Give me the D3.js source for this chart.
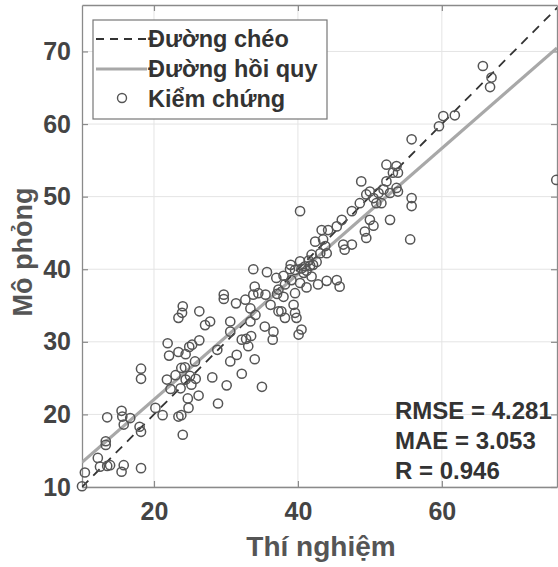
<!DOCTYPE html>
<html>
<head>
<meta charset="utf-8">
<script src="https://cdn.jsdelivr.net/npm/d3@7"></script>
<style>
  body { margin: 0; background: #fff; }
  svg text { font-family: "Liberation Sans", Arial, sans-serif; font-weight: bold; }
</style>
</head>
<body>
<div id="chart"></div>
<script>
/* DATA */
const thiNghiem = [
  10.0, 10.4, 12.2, 12.5, 13.5, 13.3, 13.3, 13.5, 15.5, 15.8, 15.5, 15.6, 15.8, 16.7, 18.2, 18.0, 18.2, 18.2, 18.2, 20.2,
  21.2, 21.9, 22.1, 23.4, 23.4, 23.9, 24.0, 21.8, 22.3, 23.0, 23.7, 23.8, 24.3, 24.4, 24.4, 24.9, 25.3, 26.3, 25.7, 25.0,
  25.8, 25.2, 24.7, 24.8, 23.4, 23.8, 24.0, 26.2, 28.1, 28.9, 30.1, 30.6, 31.5, 32.2, 34.0, 35.0, 26.3, 27.1, 27.8, 30.6,
  30.6, 31.4, 29.7, 29.7, 28.8, 32.2, 32.8, 33.1, 33.5, 32.7, 33.4, 33.4, 34.1, 33.8, 34.5, 35.4, 36.6, 36.5, 35.5, 36.2,
  37.3, 37.1, 13.9, 33.8, 35.7, 34.0, 37.0, 38.0, 38.9, 40.3, 39.6, 40.5, 41.0, 41.7, 42.1, 41.2, 41.9, 39.1, 38.2, 40.3,
  39.6, 41.2, 42.8, 44.0, 45.4, 45.8, 37.3, 38.0, 39.4, 39.6, 37.7, 38.2, 39.8, 40.5, 40.1, 40.3, 43.3, 44.2, 43.5, 42.4,
  43.8, 41.9, 43.1, 44.0, 45.4, 46.1, 47.5, 46.3, 46.5, 47.5, 48.6, 48.8, 49.5, 50.0, 50.5, 50.9, 51.6, 51.2, 51.9, 52.3,
  52.3, 53.7, 53.2, 53.9, 53.7, 53.9, 52.8, 52.8, 50.0, 50.5, 49.3, 49.5, 55.8, 55.8, 55.6, 55.8, 59.6, 60.2, 61.8, 65.7,
  66.9, 66.7, 75.9, 40.8, 41.5, 42.6, 39.0
];
const moPhong = [
  10.1, 12.0, 14.0, 12.8, 12.9, 15.8, 16.3, 19.6, 12.1, 13.0, 20.5, 19.7, 18.6, 19.5, 12.6, 18.3, 17.6, 26.3, 24.9, 20.9,
  19.9, 29.8, 28.1, 28.6, 33.3, 34.0, 34.9, 24.8, 23.5, 25.4, 23.6, 26.4, 26.5, 24.8, 28.3, 29.3, 29.6, 30.2, 27.3, 25.3,
  24.9, 24.1, 22.2, 20.9, 19.7, 19.9, 17.2, 22.6, 25.1, 21.5, 24.0, 27.3, 28.2, 25.6, 27.6, 23.8, 34.2, 32.3, 32.8, 32.8,
  31.4, 35.3, 36.5, 35.9, 28.9, 30.3, 30.4, 29.4, 30.8, 35.8, 34.6, 32.8, 33.7, 36.5, 36.7, 32.1, 31.4, 30.3, 36.5, 35.1,
  34.2, 36.6, 13.0, 40.0, 39.6, 37.6, 38.8, 39.1, 40.0, 41.1, 39.9, 40.1, 40.4, 40.5, 40.6, 39.8, 39.0, 38.5, 37.9, 38.1,
  36.7, 37.5, 37.9, 38.4, 38.5, 37.6, 37.2, 36.2, 35.1, 34.0, 34.2, 33.3, 33.3, 31.7, 31.0, 48.0, 45.4, 45.4, 44.1, 43.8,
  43.2, 42.0, 42.2, 42.2, 45.9, 46.8, 48.0, 43.4, 42.7, 43.4, 49.1, 52.1, 50.3, 50.7, 49.8, 49.1, 49.1, 50.5, 51.0, 52.1,
  54.4, 54.2, 53.3, 53.3, 51.2, 50.7, 50.5, 46.8, 46.8, 46.0, 45.2, 44.3, 49.8, 48.7, 44.1, 57.9, 59.7, 61.1, 61.2, 68.0,
  66.4, 65.1, 52.3, 39.5, 41.2, 41.0, 40.6
];
const xTicks = [20, 40, 60];
const yTicks = [10, 20, 30, 40, 50, 60, 70];
const xDomain = [10, 76];
const yDomain = [10, 76.4];
const regSlope = 0.865, regIntercept = 4.75;
const legendLabels = ["Đường chéo", "Đường hồi quy", "Kiểm chứng"];
const statLines = ["RMSE = 4.281", "MAE = 3.053", "R = 0.946"];

/* LAYOUT */
const width = 558, height = 567;
const margin = { top: 5, right: 1, bottom: 80, left: 82 };
const iw = width - margin.left - margin.right,
  ih = height - margin.top - margin.bottom;

const svg = d3.select("#chart").append("svg")
  .attr("width", width)
  .attr("height", height);

const x = d3.scaleLinear().domain(xDomain).range([0, iw]);
const y = d3.scaleLinear().domain(yDomain).range([ih, 0]);

const g = svg.append("g").attr("transform", `translate(${margin.left},${margin.top})`);

svg.append("defs").append("clipPath").attr("id", "clip")
  .append("rect").attr("width", iw).attr("height", ih);

// grid
g.append("g").selectAll("line").data(xTicks).join("line")
  .attr("x1", d => x(d)).attr("x2", d => x(d))
  .attr("y1", 0).attr("y2", ih)
  .attr("stroke", "#e4e4e4");
g.append("g").selectAll("line").data(yTicks).join("line")
  .attr("y1", d => y(d)).attr("y2", d => y(d))
  .attr("x1", 0).attr("x2", iw)
  .attr("stroke", "#e4e4e4");

// axes (ticks inward on all sides)
const axisStyle = sel => {
  sel.select(".domain").attr("stroke", "#8a8a8a").attr("stroke-width", 1.3);
  sel.selectAll(".tick line").attr("stroke", "#8a8a8a").attr("stroke-width", 1.2);
  sel.selectAll("text").attr("fill", "#444").attr("font-size", 25)
    .attr("font-family", '"Liberation Sans", Arial, sans-serif').attr("font-weight", "bold");
};
g.append("g").attr("transform", `translate(0,${ih})`)
  .call(d3.axisBottom(x).tickValues(xTicks).tickSizeInner(-6).tickSizeOuter(0).tickPadding(15))
  .call(axisStyle);
g.append("g")
  .call(d3.axisLeft(y).tickValues(yTicks).tickSizeInner(-6).tickSizeOuter(0).tickPadding(11))
  .call(axisStyle);
g.append("g")
  .call(d3.axisTop(x).tickValues(xTicks).tickSizeInner(-6).tickSizeOuter(0).tickFormat(""))
  .call(axisStyle);
g.append("g").attr("transform", `translate(${iw},0)`)
  .call(d3.axisRight(y).tickValues(yTicks).tickSizeInner(-6).tickSizeOuter(0).tickFormat(""))
  .call(axisStyle);

const plot = g.append("g").attr("clip-path", "url(#clip)");

// diagonal
plot.append("line")
  .attr("x1", x(xDomain[0])).attr("y1", y(xDomain[0]))
  .attr("x2", x(yDomain[1])).attr("y2", y(yDomain[1]))
  .attr("stroke", "#333").attr("stroke-width", 1.8).attr("stroke-dasharray", "9,7");

// regression
plot.append("line")
  .attr("x1", x(xDomain[0])).attr("y1", y(regSlope * xDomain[0] + regIntercept))
  .attr("x2", x(xDomain[1])).attr("y2", y(regSlope * xDomain[1] + regIntercept))
  .attr("stroke", "#a8a8a8").attr("stroke-width", 3.2);

// points
const pts = thiNghiem.map((v, i) => ({ x: v, y: moPhong[i] }));
g.append("g").selectAll("circle").data(pts).join("circle")
  .attr("cx", d => x(d.x)).attr("cy", d => y(d.y)).attr("r", 4.6)
  .attr("fill", "none").attr("stroke", "#555").attr("stroke-width", 1.5);

// legend
const lg = g.append("g").attr("transform", "translate(11,15)");
lg.append("rect").attr("width", 234).attr("height", 99)
  .attr("fill", "#fff").attr("stroke", "#777").attr("stroke-width", 1.2);
const rowY = i => 19 + i * 30;
lg.append("line").attr("x1", 3).attr("x2", 54).attr("y1", rowY(0)).attr("y2", rowY(0))
  .attr("stroke", "#333").attr("stroke-width", 1.8).attr("stroke-dasharray", "8,6");
lg.append("line").attr("x1", 3).attr("x2", 54).attr("y1", rowY(1)).attr("y2", rowY(1))
  .attr("stroke", "#a8a8a8").attr("stroke-width", 3.2);
lg.append("circle").attr("cx", 29).attr("cy", rowY(2) - 1).attr("r", 4.5)
  .attr("fill", "none").attr("stroke", "#555").attr("stroke-width", 1.4);
lg.selectAll("text").data(legendLabels).join("text")
  .attr("x", 55).attr("y", (d, i) => rowY(i) + 8)
  .attr("font-size", 23.5).attr("fill", "#333")
  .text(d => d);

// stats
g.append("g").selectAll("text").data(statLines).join("text")
  .attr("x", 313).attr("y", (d, i) => 414 + i * 30)
  .attr("font-size", 24).attr("fill", "#333")
  .text(d => d);

// axis labels
svg.append("text")
  .attr("x", 321).attr("y", 556)
  .attr("text-anchor", "middle").attr("font-size", 28).attr("fill", "#555")
  .text("Thí nghiệm");
svg.append("text")
  .attr("transform", "translate(32,252) rotate(-90)")
  .attr("text-anchor", "middle").attr("font-size", 27).attr("fill", "#555")
  .text("Mô phỏng");
</script>
</body>
</html>
